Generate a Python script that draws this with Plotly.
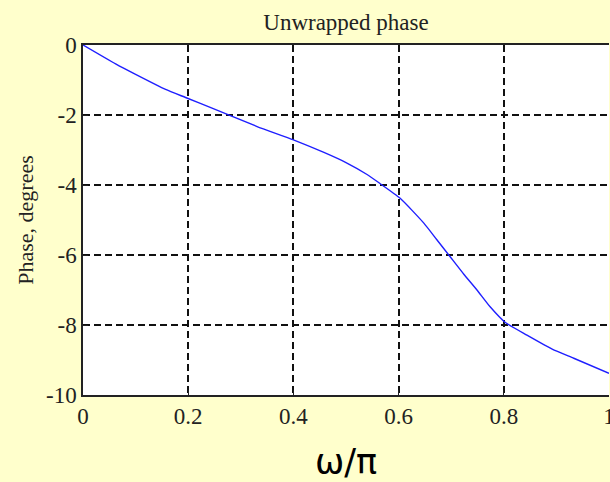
import plotly.graph_objects as go

# Data
omega = [0, 0.062, 0.1, 0.157, 0.195, 0.243, 0.331, 0.4, 0.458, 0.50, 0.54, 0.562,
         0.603, 0.648, 0.672, 0.698, 0.724, 0.749, 0.774, 0.803, 0.844, 0.892,
         0.933, 1.0]
phase = [0, -0.54, -0.84, -1.27, -1.50, -1.79, -2.33, -2.71, -3.07, -3.36, -3.70, -3.93,
         -4.38, -5.09, -5.55, -6.05, -6.55, -7.0, -7.48, -7.93, -8.29, -8.69,
         -8.95, -9.38]

x_tick_vals = [0, 0.2, 0.4, 0.6, 0.8, 1]
x_tick_text = ["0", "0.2", "0.4", "0.6", "0.8", "1"]
y_tick_vals = [0, -2, -4, -6, -8, -10]
y_tick_text = ["0", "-2", "-4", "-6", "-8", "-10"]

serif = "Liberation Serif, Times New Roman, serif"

fig = go.Figure(
    go.Scatter(
        x=omega, y=phase, mode="lines",
        line=dict(color="#1f1fff", width=1.4, shape="spline", smoothing=0.5),
        showlegend=False,
    )
)

fig.update_layout(
    width=610, height=482,
    paper_bgcolor="#FFFFCC",
    plot_bgcolor="white",
    margin=dict(l=83, r=1, t=45, b=87, autoexpand=False),
    title=dict(
        text="Unwrapped phase",
        font=dict(family=serif, size=23, color="#222"),
        x=0.5, xref="paper", xanchor="center",
        y=1 - 22 / 482, yref="container", yanchor="middle",
    ),
)

fig.update_xaxes(
    range=[0, 1], automargin=False,
    tickvals=x_tick_vals, ticktext=x_tick_text,
    tickfont=dict(family=serif, size=23, color="#222"),
    ticklabeloverflow="allow",
    showgrid=True, gridcolor="#111", gridwidth=1.5, griddash="7px,4px",
    showline=True, linecolor="#222", linewidth=1.5, mirror=True,
    ticks="inside", ticklen=5, tickcolor="#222",
    zeroline=False,
    title=dict(text="ω/π", font=dict(family="DejaVu Sans, Verdana, sans-serif", size=35, color="black"), standoff=25),
)

fig.update_yaxes(
    range=[-10, 0], automargin=False,
    tickvals=y_tick_vals, ticktext=y_tick_text,
    tickfont=dict(family=serif, size=23, color="#222"),
    showgrid=True, gridcolor="#111", gridwidth=1.5, griddash="7px,4px",
    showline=True, linecolor="#222", linewidth=1.5, mirror=False,
    ticks="inside", ticklen=5, tickcolor="#222",
    zeroline=False,
    title=dict(text="Phase, degrees", font=dict(family=serif, size=22, color="#222"), standoff=6),
)

fig.write_html("out.html")
